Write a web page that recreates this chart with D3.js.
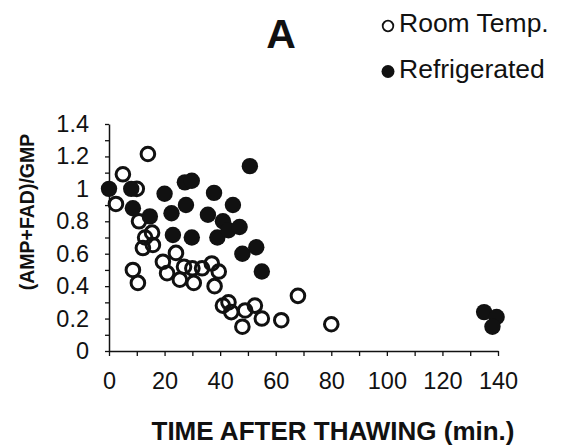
<!DOCTYPE html>
<html>
<head>
<meta charset="utf-8">
<script src="https://cdn.jsdelivr.net/npm/d3@7"></script>
<style>
  html, body { margin: 0; padding: 0; background: #fff; }
  svg { display: block; font-family: "Liberation Sans", Arial, Helvetica, sans-serif; }
</style>
</head>
<body>
<svg id="chart" width="563" height="445"></svg>
<script>
// Nucleotide ratio after thawing, two storage conditions
const roomTime = [2.5, 5, 8.6, 10, 10.4, 10.8, 12.2, 13, 14, 15.5, 15.8, 19.4, 20.9, 24.1, 25.5, 27, 30, 30.5, 33.5, 37, 38, 39.5, 41, 43, 44, 48, 49, 52.5, 55, 62, 68, 80];
const roomRatio = [0.907, 1.09, 0.50, 1.0, 0.42, 0.80, 0.635, 0.70, 1.215, 0.73, 0.654, 0.55, 0.48, 0.605, 0.44, 0.52, 0.51, 0.42, 0.51, 0.54, 0.40, 0.49, 0.28, 0.30, 0.24, 0.15, 0.25, 0.28, 0.20, 0.19, 0.34, 0.165];

const fridgeTime = [0, 8, 8.6, 14.7, 20, 22.5, 23, 27.3, 27.7, 29.8, 29.8, 35.6, 37.8, 39, 41, 43, 44.6, 47, 48, 50.7, 53, 55, 135, 139.5, 138];
const fridgeRatio = [1.0, 1.0, 0.88, 0.83, 0.97, 0.85, 0.715, 1.04, 0.90, 1.05, 0.70, 0.84, 0.975, 0.70, 0.80, 0.745, 0.90, 0.765, 0.60, 1.14, 0.64, 0.49, 0.24, 0.21, 0.15];

const xTicks = d3.range(0, 141, 10);
const yTicks = d3.range(0, 15).map(i => i / 10);

const panelLabel = "A";
const seriesNames = ["Room Temp.", "Refrigerated"];
const xTitle = "TIME AFTER THAWING (min.)";
const yTitle = "(AMP+FAD)/GMP";

const svg = d3.select("#chart");
const x = d3.scaleLinear().domain([0, 140]).range([109, 498]);
const y = d3.scaleLinear().domain([0, 1.4]).range([351, 124]);

const ink = "#111";
const tickFont = 23.5;

// x axis: ticks every 10 min, labels every 20
const gx = svg.append("g")
  .attr("transform", `translate(0,${y(0)})`)
  .call(d3.axisBottom(x)
    .tickValues(xTicks)
    .tickSize(5)
    .tickSizeOuter(0)
    .tickPadding(16)
    .tickFormat(d => d % 20 === 0 ? d : ""));
gx.select(".domain").attr("stroke", ink).attr("stroke-width", 1.5);
gx.selectAll(".tick line").attr("stroke", ink).attr("stroke-width", 1.3);
gx.selectAll(".tick text").attr("font-size", tickFont).attr("fill", ink)
  .attr("font-family", "Liberation Sans, Arial, sans-serif");

// y axis: ticks every 0.1, labels every 0.2
const gy = svg.append("g")
  .attr("transform", `translate(${x(0)},0)`)
  .call(d3.axisLeft(y)
    .tickValues(yTicks)
    .tickSize(4)
    .tickSizeOuter(0)
    .tickPadding(16)
    .tickFormat(d => Math.round(d * 10) % 2 === 0 ? String(+d.toFixed(1)) : ""));
gy.select(".domain").attr("stroke", ink).attr("stroke-width", 1.5);
gy.selectAll(".tick line").attr("stroke", ink).attr("stroke-width", 1.3);
gy.selectAll(".tick text").attr("font-size", tickFont).attr("fill", ink)
  .attr("font-family", "Liberation Sans, Arial, sans-serif");

// open markers first, filled markers over them
const room = roomTime.map((t, i) => ({ t, v: roomRatio[i] }));
const fridge = fridgeTime.map((t, i) => ({ t, v: fridgeRatio[i] }));

svg.append("g").selectAll("circle").data(room).join("circle")
  .attr("cx", d => x(d.t)).attr("cy", d => y(d.v))
  .attr("r", 6.8)
  .attr("fill", "none")
  .attr("stroke", ink)
  .attr("stroke-width", 3);

svg.append("g").selectAll("circle").data(fridge).join("circle")
  .attr("cx", d => x(d.t)).attr("cy", d => y(d.v))
  .attr("r", 8.2)
  .attr("fill", ink);

// axis titles
svg.append("text")
  .attr("x", 333).attr("y", 440)
  .attr("text-anchor", "middle")
  .attr("font-weight", "bold")
  .attr("font-size", 26)
  .attr("fill", ink)
  .text(xTitle);

svg.append("text")
  .attr("transform", "translate(34,212) rotate(-90)")
  .attr("text-anchor", "middle")
  .attr("font-weight", "bold")
  .attr("font-size", 19.5)
  .attr("fill", ink)
  .text(yTitle);

// panel letter
svg.append("text")
  .attr("x", 281).attr("y", 48)
  .attr("text-anchor", "middle")
  .attr("font-weight", "bold")
  .attr("font-size", 41)
  .attr("fill", ink)
  .text(panelLabel);

// legend
const legend = svg.append("g");
legend.append("circle").attr("cx", 388).attr("cy", 26).attr("r", 5.3)
  .attr("fill", "none").attr("stroke", ink).attr("stroke-width", 1.8);
legend.append("circle").attr("cx", 388).attr("cy", 71.5).attr("r", 6.5)
  .attr("fill", ink);
legend.append("text").attr("x", 399).attr("y", 32)
  .attr("font-size", 26.5).attr("fill", ink).text(seriesNames[0]);
legend.append("text").attr("x", 399).attr("y", 78)
  .attr("font-size", 26.5).attr("fill", ink).text(seriesNames[1]);
</script>
</body>
</html>
